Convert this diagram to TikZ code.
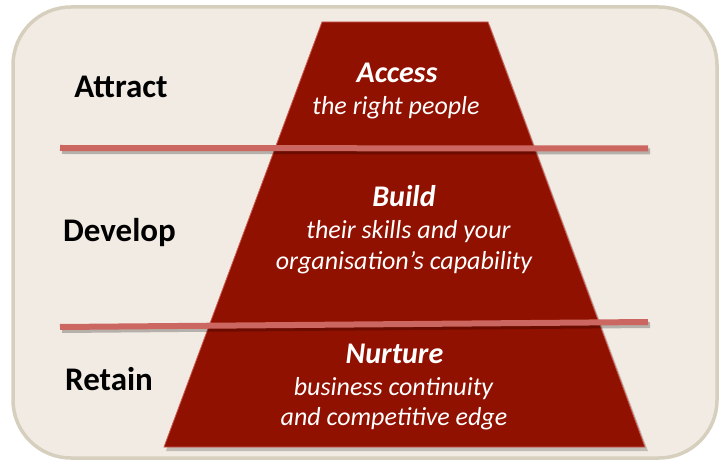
\documentclass[tikz,border=0pt]{standalone}
\usepackage{fontspec}
\setmainfont{Carlito}
\definecolor{bgfill}{RGB}{242,235,228}
\definecolor{bgedge}{RGB}{215,207,190}
\definecolor{pyr}{RGB}{145,17,0}
\definecolor{pyredge}{RGB}{205,90,80}
\definecolor{band}{RGB}{204,102,96}
\begin{document}
\begin{tikzpicture}[x=1pt,y=-1pt,
  lbl/.style={font=\fontsize{33}{40}\selectfont\bfseries, anchor=base, text=black, inner sep=0pt},
  head/.style={font=\fontsize{30}{36}\selectfont\bfseries\itshape, anchor=base, text=white, inner sep=0pt},
  sub/.style={font=\fontsize{26}{31}\selectfont\itshape, anchor=base, text=white, inner sep=0pt},
  bandline/.style={band, line width=6pt},
  bandshadow/.style={black, opacity=0.25, line width=6pt}]
\useasboundingbox (0,0) rectangle (723,462);
% background panel
\draw[bgedge, line width=3.5pt, fill=bgfill, rounded corners=58pt] (13,7) rectangle (717,458);
% pyramid
\fill[black, opacity=0.2] (324,25) -- (490,25) -- (648,451) -- (166,451) -- cycle;
\fill[pyr, draw=pyredge, line width=0.8pt] (322,22) -- (488,22) -- (645,447) -- (164,447) -- cycle;
% band lines
\coordinate (l1a) at (60,148);
\coordinate (l1b) at (648,148.5);
\coordinate (l2a) at (60,327);
\coordinate (l2b) at (648,322);
\draw[bandshadow] ([shift={(2,3)}]l1a) -- ([shift={(2,3)}]l1b);
\draw[bandshadow] ([shift={(2,3)}]l2a) -- ([shift={(2,3)}]l2b);
\draw[bandline] (l1a) -- (l1b);
\draw[bandline] (l2a) -- (l2b);
% left labels
\node[lbl] (attract) at (121,98) {Attract};
\node[lbl] (develop) at (119.5,242) {Develop};
\node[lbl] (retain) at (109,390) {Retain};
% pyramid texts
\node[head] (access) at (397,83) {Access};
\node[sub] (access2) at (396,115) {the right people};
\node[head] (build) at (404,207) {Build};
\node[sub] (build2) at (408.5,239) {their skills and your};
\node[sub] (build3) at (404,270) {organisation’s capability};
\node[head] (nurture) at (394.5,363) {Nurture};
\node[sub] (nurture2) at (393.5,395) {business continuity};
\node[sub] (nurture3) at (394,425) {and competitive edge};
\end{tikzpicture}
\end{document}
